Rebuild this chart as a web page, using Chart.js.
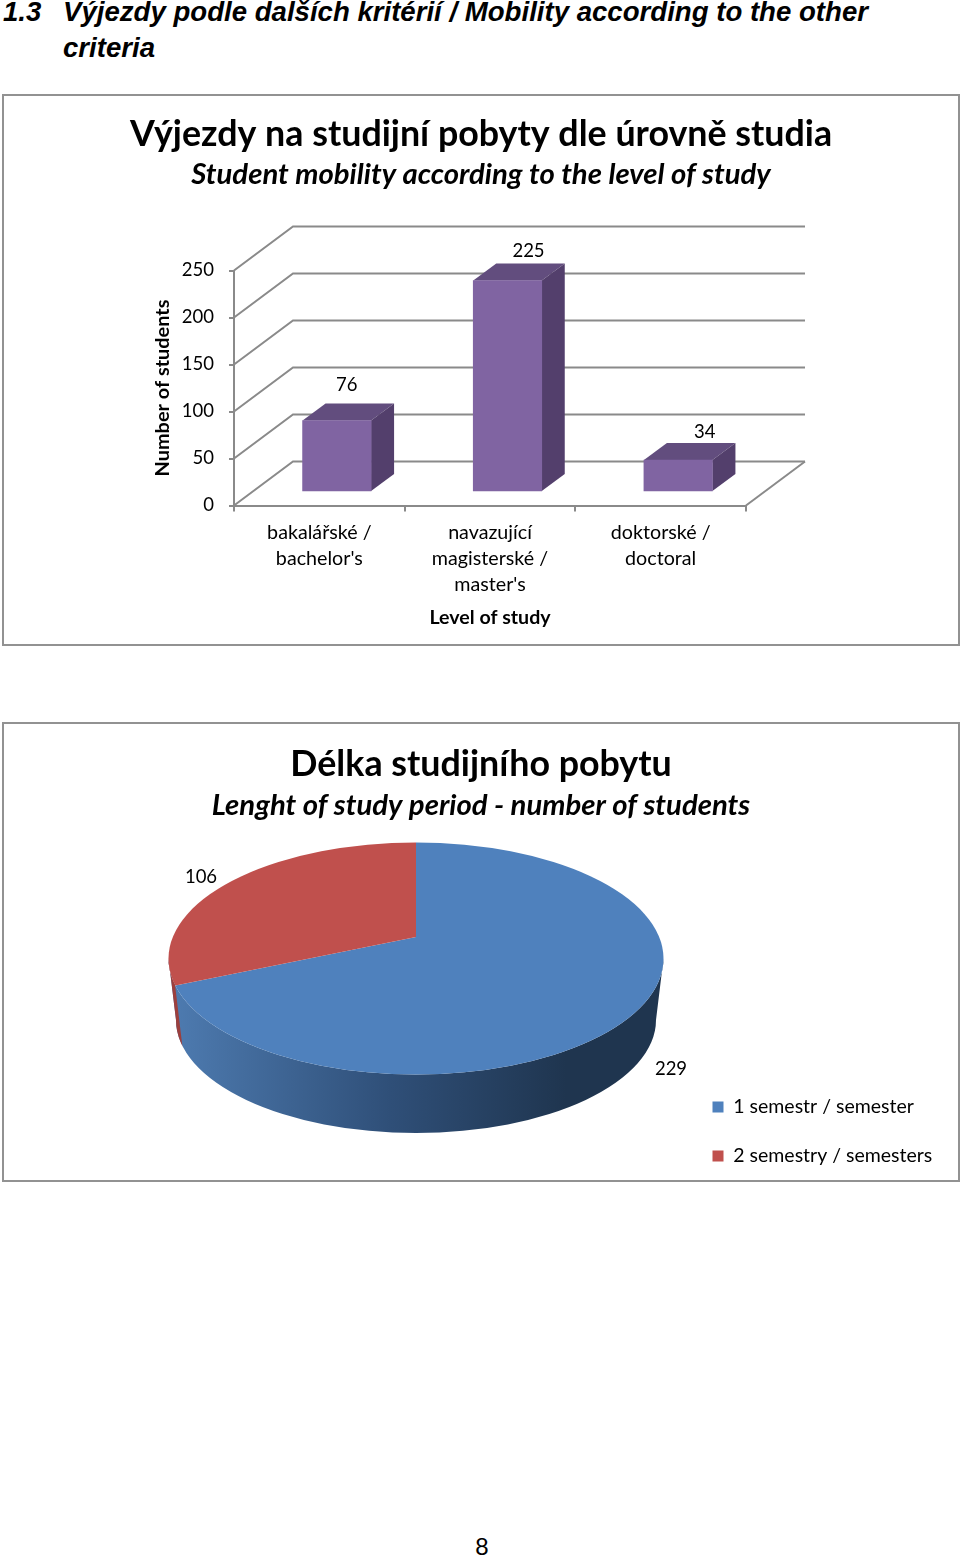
<!DOCTYPE html>
<html>
<head>
<meta charset="utf-8">
<title>Mobility according to the other criteria</title>
<script src="https://cdn.jsdelivr.net/npm/chart.js@4/dist/chart.umd.min.js"></script>
<style>
  html, body { margin: 0; padding: 0; background: #fff; }
  body { position: relative; width: 960px; height: 1556px; overflow: hidden; }
  .heading { position: absolute; font: italic bold 27.6px "Liberation Sans", Arial, sans-serif; color: #000; white-space: nowrap; }
  .box { position: absolute; left: 2px; width: 954px; border: 2px solid #929292; box-sizing: content-box; }
  canvas { position: absolute; left: 3px; }
  #pageNo { position: absolute; left: 472px; top: 1533px; width: 20px; text-align: center; font: 24px "Liberation Sans", Arial, sans-serif; color: #000; }
</style>
</head>
<body>
<div class="heading" style="left:3px;top:-4px">1.3</div>
<div class="heading" style="left:63px;top:-4px">Výjezdy podle dalších kritérií / Mobility according to the other</div>
<div class="heading" style="left:63px;top:32px">criteria</div>

<div class="box" style="top:94px;height:548px"></div>
<canvas id="levelChart" width="956" height="551" style="top:95px"></canvas>

<div class="box" style="top:722px;height:456px"></div>
<canvas id="lengthChart" width="956" height="459" style="top:723px"></canvas>

<div id="pageNo">8</div>

<script>
// Level of study
const levelLabels = [['bakalářské /', "bachelor's"], ['navazující', 'magisterské /', "master's"], ['doktorské /', 'doctoral']];
const levelValues = [76, 225, 34];
const levelTicks = [0, 50, 100, 150, 200, 250];

// Length of stay
const lengthLabels = ['1 semestr / semester', '2 semestry / semesters'];
const lengthValues = [229, 106];

const FONT = 'Lato, "Open Sans", sans-serif';
const AXIS_COLOR = '#8a8a8a';

// how far the back wall sits behind the front axes
const WALL_DX = 59;
const WALL_DY = -44;
// bars stand part way into the floor
const BAR_SHIFT_X = 17.5;
const BAR_SHIFT_Y = -13.5;
const BAR_DX = 23;
const BAR_DY = -17;
// value label offset from bar centre / front top edge
const LEVEL_LABEL_NUDGE = [[27.5, -36], [38.5, -29], [44, -28.5]];

// titles are centred on the whole box, not on the plot
const centerTitles = {
  id: 'centerTitles',
  afterLayout(chart) {
    chart.boxes.filter(b => b.options && b.options.text).forEach(b => {
      b.left = 0;
      b.right = chart.width;
    });
  }
};

const bar3d = {
  id: 'bar3d',
  beforeDatasetsDraw(chart) {
    const { ctx, chartArea, scales } = chart;
    const y = scales.y;
    ctx.save();
    ctx.strokeStyle = AXIS_COLOR;
    ctx.lineWidth = 2;

    // walls
    y.ticks.forEach(t => {
      const py = y.getPixelForValue(t.value);
      ctx.beginPath();
      ctx.moveTo(chartArea.left, py);
      ctx.lineTo(chartArea.left + WALL_DX, py + WALL_DY);
      ctx.lineTo(chartArea.right + WALL_DX, py + WALL_DY);
      ctx.stroke();
    });
    ctx.beginPath();
    ctx.moveTo(chartArea.right, chartArea.bottom);
    ctx.lineTo(chartArea.right + WALL_DX, chartArea.bottom + WALL_DY);
    ctx.stroke();
    ctx.restore();

    ctx.save();
    ctx.translate(BAR_SHIFT_X, BAR_SHIFT_Y);
    chart.getDatasetMeta(0).data.forEach(bar => {
      const x0 = bar.x - bar.width / 2;
      const x1 = bar.x + bar.width / 2;
      ctx.fillStyle = '#624d7e';
      ctx.beginPath();
      ctx.moveTo(x0, bar.y);
      ctx.lineTo(x1, bar.y);
      ctx.lineTo(x1 + BAR_DX, bar.y + BAR_DY);
      ctx.lineTo(x0 + BAR_DX, bar.y + BAR_DY);
      ctx.closePath();
      ctx.fill();
      ctx.fillStyle = '#533f6c';
      ctx.beginPath();
      ctx.moveTo(x1, bar.y);
      ctx.lineTo(x1 + BAR_DX, bar.y + BAR_DY);
      ctx.lineTo(x1 + BAR_DX, bar.base + BAR_DY);
      ctx.lineTo(x1, bar.base);
      ctx.closePath();
      ctx.fill();
    });
  },
  afterDatasetsDraw(chart) {
    const { ctx } = chart;
    ctx.restore();

    ctx.save();
    ctx.font = '18.5px ' + FONT;
    ctx.fillStyle = '#000';
    ctx.textAlign = 'center';
    ctx.textBaseline = 'middle';
    chart.getDatasetMeta(0).data.forEach((bar, i) => {
      ctx.fillText(levelValues[i], bar.x + LEVEL_LABEL_NUDGE[i][0], bar.y + BAR_SHIFT_Y + LEVEL_LABEL_NUDGE[i][1]);
    });
    ctx.restore();
  }
};

new Chart(document.getElementById('levelChart'), {
  type: 'bar',
  data: {
    labels: levelLabels,
    datasets: [{
      data: levelValues,
      backgroundColor: '#8064a2',
      barThickness: 68.5,
      borderWidth: 0,
      clip: false
    }]
  },
  plugins: [centerTitles, bar3d],
  options: {
    responsive: false,
    animation: false,
    layout: { padding: { right: 213 } },
    plugins: {
      legend: { display: false },
      tooltip: { enabled: false },
      title: {
        display: true,
        text: 'Výjezdy na studijní pobyty dle úrovně studia',
        color: '#000',
        font: { family: FONT, size: 35.8, weight: 'bold', lineHeight: 1.2 },
        padding: { top: 17.5, bottom: 0 }
      },
      subtitle: {
        display: true,
        text: 'Student mobility according to the level of study',
        color: '#000',
        font: { family: FONT, size: 29.3, weight: 'bold', style: 'italic', lineHeight: 1.2 },
        padding: { top: 2, bottom: 77.9 }
      }
    },
    scales: {
      x: {
        afterFit(scale) { scale.height = 140.5; },
        grid: { drawOnChartArea: false, color: AXIS_COLOR, lineWidth: 2, tickLength: 6 },
        border: { color: AXIS_COLOR, width: 2 },
        ticks: {
          color: '#000',
          padding: 8,
          maxRotation: 0,
          autoSkip: false,
          font: { family: FONT, size: 19.7, lineHeight: 26 / 19.7 }
        },
        title: {
          display: true,
          text: 'Level of study',
          color: '#000',
          font: { family: FONT, size: 19.6, weight: 'bold', lineHeight: 1.2 },
          padding: { top: 0, bottom: 17 }
        }
      },
      y: {
        min: 0,
        max: 250,
        afterFit(scale) { scale.width = 231; },
        afterBuildTicks(scale) { scale.ticks = levelTicks.map(value => ({ value })); },
        grid: { drawOnChartArea: false, color: AXIS_COLOR, lineWidth: 2, tickLength: 5 },
        border: { color: AXIS_COLOR, width: 2 },
        ticks: {
          color: '#000',
          padding: 15,
          font: { family: FONT, size: 18.5 }
        },
        title: {
          display: true,
          text: 'Number of students',
          color: '#000',
          font: { family: FONT, size: 19.9, weight: 'bold', lineHeight: 1.2 },
          padding: { top: 148, bottom: 0 }
        }
      }
    }
  }
});

// The pie top is an ellipse seen in perspective, so its wedge tip is above the ellipse centre
const PIE_SQUASH = 0.455;
const RIM = { dy: 21.5, rx: 247.5, ry: 116 };
const BASE = { dy: 83, rx: 240, ry: 113 };
const PIE_LABELS = [[255, 132], [-215, -60]];

function rimPoint(arc, angle) {
  // walk along the slice edge till it leaves the top ellipse
  const dx = Math.cos(angle);
  const dy = Math.sin(angle) * PIE_SQUASH;
  let r = 0;
  while (r < 400) {
    const u = (r * dx) / RIM.rx;
    const v = (r * dy - RIM.dy) / RIM.ry;
    if (u * u + v * v >= 1) break;
    r += 0.5;
  }
  return { x: arc.x + r * dx, y: arc.y + r * dy };
}

const pie3d = {
  id: 'pie3d',
  afterLayout(chart) {
    // the legend sits in the lower right corner of the box
    const legend = chart.legend;
    const pad = chart.options.plugins.legend.labels.padding;
    legend.left = 709.5 - pad;
    legend.right = legend.left + legend.width;
    legend.top = 344.75;
    legend.bottom = legend.top + legend.height;
  },
  beforeDatasetsDraw(chart) {
    const { ctx } = chart;
    const arcs = chart.getDatasetMeta(0).data;
    const arc = arcs[0];
    const rimY = arc.y + RIM.dy;
    const baseY = arc.y + BASE.dy;

    const body = () => {
      ctx.beginPath();
      ctx.ellipse(arc.x, rimY, RIM.rx, RIM.ry, 0, 0, Math.PI);
      ctx.lineTo(arc.x - BASE.rx, baseY);
      ctx.ellipse(arc.x, baseY, BASE.rx, BASE.ry, 0, Math.PI, 0, true);
      ctx.closePath();
    };

    const grad = ctx.createLinearGradient(arc.x - BASE.rx, 0, arc.x + 150, 0);
    grad.addColorStop(0, '#4d7aaf');
    grad.addColorStop(0.55, '#2f4f78');
    grad.addColorStop(1, '#1f354f');
    ctx.fillStyle = grad;
    body();
    ctx.fill();

    // red sliver on the far left, cut where the red slice ends
    const edge = rimPoint(arc, arcs[0].endAngle);
    const lowX = arc.x + (edge.x - arc.x) * BASE.rx / RIM.rx;
    const lowY = baseY + (edge.y - rimY) * BASE.ry / RIM.ry;
    ctx.save();
    ctx.beginPath();
    ctx.moveTo(0, edge.y);
    ctx.lineTo(edge.x, edge.y);
    ctx.lineTo(lowX, lowY);
    ctx.lineTo(0, lowY);
    ctx.lineTo(0, 0);
    ctx.lineTo(edge.x, 0);
    ctx.lineTo(edge.x, edge.y);
    ctx.clip();
    ctx.fillStyle = '#9c3f3d';
    body();
    ctx.fill();
    ctx.restore();

    ctx.save();
    ctx.beginPath();
    ctx.ellipse(arc.x, rimY, RIM.rx, RIM.ry, 0, 0, Math.PI * 2);
    ctx.clip();
    ctx.translate(arc.x, arc.y);
    ctx.scale(1, PIE_SQUASH);
    ctx.translate(-arc.x, -arc.y);
  },
  afterDatasetsDraw(chart) {
    const { ctx } = chart;
    ctx.restore();

    const arc = chart.getDatasetMeta(0).data[0];
    ctx.save();
    ctx.font = '18.5px ' + FONT;
    ctx.fillStyle = '#000';
    ctx.textAlign = 'center';
    ctx.textBaseline = 'middle';
    lengthValues.forEach((v, i) => {
      ctx.fillText(v, arc.x + PIE_LABELS[i][0], arc.y + PIE_LABELS[i][1]);
    });
    ctx.restore();
  }
};

new Chart(document.getElementById('lengthChart'), {
  type: 'pie',
  data: {
    labels: lengthLabels,
    datasets: [{
      data: lengthValues,
      backgroundColor: ['#4f81bd', '#c0504d'],
      borderWidth: 0,
      clip: false
    }]
  },
  plugins: [centerTitles, pie3d],
  options: {
    responsive: false,
    animation: false,
    radius: 330,
    layout: { padding: { right: 130, bottom: 131.58 } },
    plugins: {
      tooltip: { enabled: false },
      title: {
        display: true,
        text: 'Délka studijního pobytu',
        color: '#000',
        font: { family: FONT, size: 35.8, weight: 'bold', lineHeight: 1.2 },
        padding: { top: 19.5, bottom: 0 }
      },
      subtitle: {
        display: true,
        text: 'Lenght of study period - number of students',
        color: '#000',
        font: { family: FONT, size: 29.3, weight: 'bold', style: 'italic', lineHeight: 1.2 },
        padding: { top: 3, bottom: 0 }
      },
      legend: {
        position: 'chartArea',
        align: 'start',
        labels: {
          color: '#000',
          boxWidth: 11,
          boxHeight: 11,
          padding: 29.5,
          font: { family: FONT, size: 19.5, lineHeight: 1.2 }
        }
      }
    }
  }
});
</script>
</body>
</html>
